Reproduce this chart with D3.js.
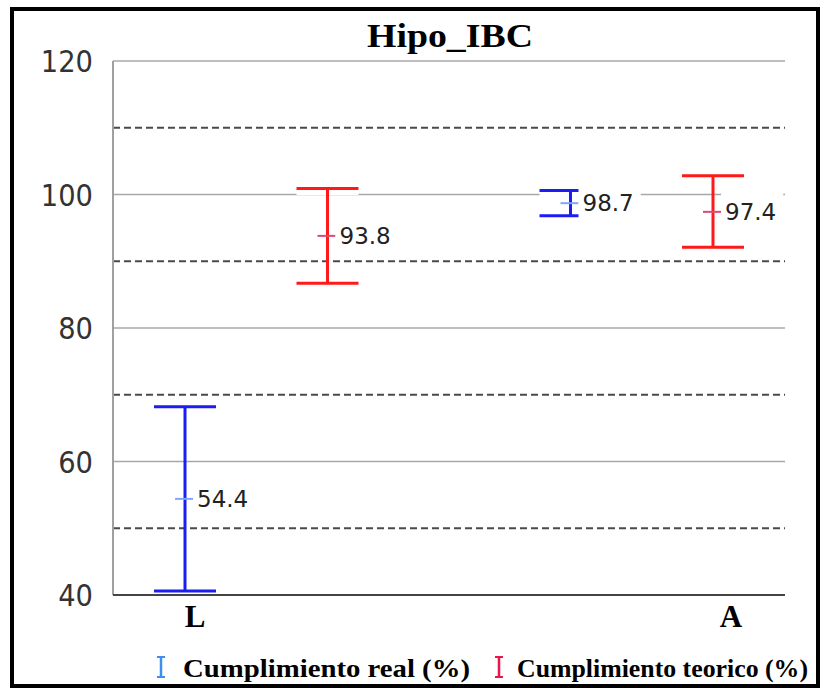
<!DOCTYPE html>
<html><head><meta charset="utf-8">
<script src="https://cdn.jsdelivr.net/npm/d3@7"></script>
<style>body{margin:0;background:#fff}</style>
</head><body><svg id="c" width="830" height="688"></svg>
<script>
const chartTitle = "Hipo_IBC";
const categories = ["L", "A"];
const seriesNames = ["Cumplimiento real (%)", "Cumplimiento teorico (%)"];
const realMean = [54.4, 98.7];
const realLow = [40.6, 96.8];
const realHigh = [68.2, 100.6];
const teoMean = [93.8, 97.4];
const teoLow = [86.7, 92.1];
const teoHigh = [100.9, 102.8];
const yTicks = [40, 60, 80, 100, 120];
const solidGrid = [60, 80, 100, 120];
const dashedGrid = [50, 70, 90, 110];

const series = [
  {name: seriesNames[0], mean: realMean, low: realLow, high: realHigh,
   color: "#1c1cf5", tick: "#7ea6ff", legend: "#3d8ef0"},
  {name: seriesNames[1], mean: teoMean, low: teoLow, high: teoHigh,
   color: "#ff1a1a", tick: "#d94a78", legend: "#e8174a"}
];

const svg = d3.select("#c");
const L = 113, R = 785, T = 61, B = 595;
const y = d3.scaleLinear().domain([40, 120]).range([B, T]);
const xGroup = d3.scalePoint().domain(categories).range([256.5, 642]);
const xSeries = d3.scalePoint().domain([0, 1]).range([-71.5, 71]);
const xLabel = d3.scalePoint().domain(categories).range([195, 731]);
const capHalf = 31;

// frame
svg.append("rect").attr("x", 12).attr("y", 9).attr("width", 806).attr("height", 677)
  .attr("fill", "none").attr("stroke", "#000").attr("stroke-width", 4);

// title
svg.append("text").attr("x", 450).attr("y", 47).attr("text-anchor", "middle")
  .attr("font-family", "Liberation Serif").attr("font-weight", "bold")
  .attr("font-size", 33).attr("textLength", 166).attr("lengthAdjust", "spacingAndGlyphs")
  .attr("fill", "#000").text(chartTitle);

// grid
svg.append("g").selectAll("line").data(solidGrid).join("line")
  .attr("x1", L).attr("x2", R).attr("y1", d => y(d)).attr("y2", d => y(d))
  .attr("stroke", "#a8a8a8").attr("stroke-width", 1.5);
svg.append("g").selectAll("line").data(dashedGrid).join("line")
  .attr("x1", L).attr("x2", R).attr("y1", d => y(d)).attr("y2", d => y(d))
  .attr("stroke", "#4a4a4a").attr("stroke-width", 2).attr("stroke-dasharray", "7,4");

// left axis
svg.append("line").attr("x1", L).attr("x2", L).attr("y1", T).attr("y2", B)
  .attr("stroke", "#a0a0a0").attr("stroke-width", 2);

// y tick labels via axis
const yAxis = d3.axisLeft(y).tickValues(yTicks).tickSize(0).tickPadding(20);
const gy = svg.append("g").attr("transform", `translate(${L},0)`).call(yAxis);
gy.select(".domain").remove();
gy.selectAll("text").attr("font-family", "DejaVu Sans").attr("font-size", 30)
  .attr("fill", "#333").attr("dy", "0.36em")
  .attr("textLength", d => String(d).length * 17.4).attr("lengthAdjust", "spacingAndGlyphs");

// data points
const points = [];
series.forEach((s, si) => {
  categories.forEach((c, ci) => {
    points.push({si, s, x: xGroup(c) + xSeries(si), mean: s.mean[ci], low: s.low[ci], high: s.high[ci]});
  });
});

// white underlays beneath caps
const under = svg.append("g");
points.forEach(p => {
  [p.low, p.high].forEach(v => {
    under.append("rect").attr("x", p.x - capHalf).attr("y", y(v) + 1.5)
      .attr("width", capHalf * 2).attr("height", 5).attr("fill", "#fff");
  });
});

// bottom axis
svg.append("line").attr("x1", L).attr("x2", R).attr("y1", B).attr("y2", B)
  .attr("stroke", "#444").attr("stroke-width", 2);

// error bars, series by series, labels with white boxes
series.forEach((s, si) => {
  const pts = points.filter(p => p.si === si);
  const g = svg.append("g");
  pts.forEach(p => {
    g.append("line").attr("x1", p.x).attr("x2", p.x).attr("y1", y(p.low)).attr("y2", y(p.high))
      .attr("stroke", s.color).attr("stroke-width", 3);
    [p.low, p.high].forEach(v => {
      g.append("line").attr("x1", p.x - capHalf).attr("x2", p.x + capHalf)
        .attr("y1", y(v)).attr("y2", y(v)).attr("stroke", s.color).attr("stroke-width", 3);
    });
    g.append("line").attr("x1", p.x - 10).attr("x2", p.x + 8)
      .attr("y1", y(p.mean)).attr("y2", y(p.mean)).attr("stroke", s.tick).attr("stroke-width", 2);
  });
  pts.forEach(p => {
    const tx = p.x + 12, ty = y(p.mean);
    const txt = d3.format(".1f")(p.mean);
    const w = txt.length * 13.3;
    g.append("rect").attr("x", tx - 4).attr("y", ty - 21).attr("width", w + 9).attr("height", 36)
      .attr("fill", "#fff");
    g.append("text").attr("x", tx).attr("y", ty).attr("dy", "0.36em")
      .attr("font-family", "DejaVu Sans").attr("font-size", 23).attr("fill", "#222")
      .text(txt);
  });
});

// category labels
svg.append("g").selectAll("text").data(categories).join("text")
  .attr("x", d => xLabel(d)).attr("y", 627).attr("text-anchor", "middle")
  .attr("font-family", "Liberation Serif").attr("font-weight", "bold").attr("font-size", 31)
  .attr("fill", "#000").text(d => d);

// legend
const legendPos = [{ix: 161, tx: 183, w: 287}, {ix: 499, tx: 517, w: 291}];
series.forEach((s, si) => {
  const lp = legendPos[si];
  const g = svg.append("g");
  g.append("line").attr("x1", lp.ix).attr("x2", lp.ix).attr("y1", 657).attr("y2", 677)
    .attr("stroke", s.legend).attr("stroke-width", 2.5);
  [657, 677].forEach(v => g.append("line").attr("x1", lp.ix - 4).attr("x2", lp.ix + 4)
    .attr("y1", v).attr("y2", v).attr("stroke", s.legend).attr("stroke-width", 2));
  g.append("text").attr("x", lp.tx).attr("y", 677)
    .attr("font-family", "Liberation Serif").attr("font-weight", "bold")
    .attr("font-size", 26)
    .attr("textLength", lp.w).attr("lengthAdjust", "spacingAndGlyphs")
    .attr("fill", "#000").text(s.name);
});
</script></body></html>
